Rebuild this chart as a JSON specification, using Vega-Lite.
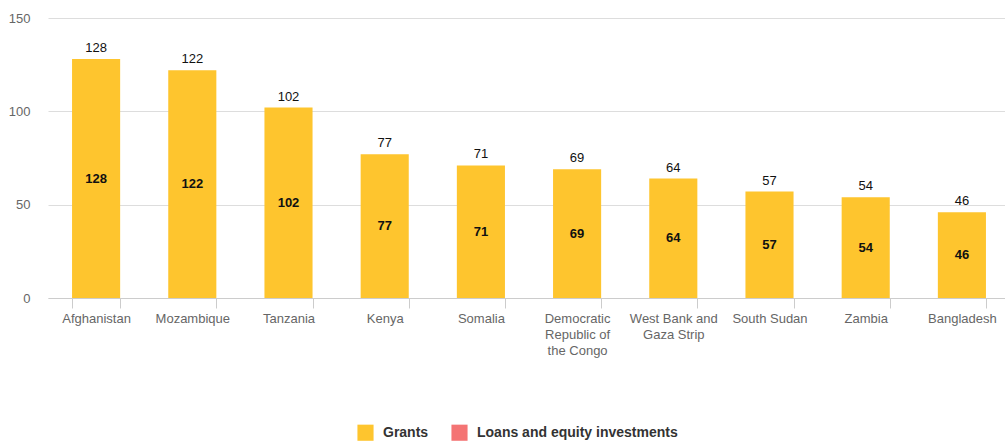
{
  "$schema": "https://vega.github.io/schema/vega-lite/v6.json",
  "width": 962,
  "height": 280,
  "autosize": "none",
  "padding": {"left": 48, "top": 18, "right": 0, "bottom": 146},
  "background": "white",
  "config": {
    "view": {"stroke": null},
    "font": "Liberation Sans"
  },
  "data": {
    "values": [
      {"country": "Afghanistan", "value": 128, "type": "Grants"},
      {"country": "Mozambique", "value": 122, "type": "Grants"},
      {"country": "Tanzania", "value": 102, "type": "Grants"},
      {"country": "Kenya", "value": 77, "type": "Grants"},
      {"country": "Somalia", "value": 71, "type": "Grants"},
      {"country": "Democratic Republic of the Congo", "value": 69, "type": "Grants"},
      {"country": "West Bank and Gaza Strip", "value": 64, "type": "Grants"},
      {"country": "South Sudan", "value": 57, "type": "Grants"},
      {"country": "Zambia", "value": 54, "type": "Grants"},
      {"country": "Bangladesh", "value": 46, "type": "Grants"}
    ]
  },
  "encoding": {
    "x": {
      "field": "country",
      "type": "nominal",
      "sort": null,
      "scale": {"paddingInner": 0.5, "paddingOuter": 0.25},
      "axis": {
        "title": null,
        "labelAngle": 0,
        "labelFont": "Liberation Sans",
        "labelFontSize": 13,
        "labelColor": "#666666",
        "labelPadding": 4,
        "labelLineHeight": 16,
        "labelLimit": 200,
        "tickBand": "extent",
        "tickSize": 10,
        "tickColor": "#cccccc",
        "domainColor": "#cccccc",
        "labelExpr": "datum.label == 'Democratic Republic of the Congo' ? ['Democratic', 'Republic of', 'the Congo'] : datum.label == 'West Bank and Gaza Strip' ? ['West Bank and', 'Gaza Strip'] : datum.label"
      }
    }
  },
  "layer": [
    {
      "mark": {"type": "bar"},
      "encoding": {
        "y": {
          "field": "value",
          "type": "quantitative",
          "scale": {"domain": [0, 150], "nice": false},
          "axis": {
            "title": null,
            "values": [0, 50, 100, 150],
            "domain": false,
            "ticks": false,
            "labelPadding": 18,
            "labelFont": "Liberation Sans",
            "labelFontSize": 13,
            "labelColor": "#666666",
            "gridColor": "#dddddd"
          }
        },
        "color": {
          "field": "type",
          "type": "nominal",
          "scale": {
            "domain": ["Grants", "Loans and equity investments"],
            "range": ["#fec52e", "#f47474"]
          },
          "legend": {
            "title": null,
            "orient": "none",
            "legendX": 309,
            "legendY": 406,
            "direction": "horizontal",
            "symbolType": "square",
            "symbolSize": 260,
            "symbolStrokeWidth": 0,
            "symbolOpacity": 1,
            "labelFont": "Liberation Sans",
            "labelFontSize": 14,
            "labelFontWeight": "bold",
            "labelColor": "#333333",
            "labelOffset": 9,
            "columnPadding": 22,
            "labelLimit": 300
          }
        }
      }
    },
    {
      "mark": {"type": "text", "baseline": "bottom", "dy": -4, "fontSize": 13, "color": "#111111", "font": "Liberation Sans"},
      "encoding": {
        "y": {"field": "value", "type": "quantitative", "scale": {"domain": [0, 150], "nice": false}, "axis": null},
        "text": {"field": "value", "type": "quantitative"}
      }
    },
    {
      "mark": {"type": "text", "baseline": "middle", "fontSize": 13, "fontWeight": "bold", "color": "#111111", "font": "Liberation Sans"},
      "encoding": {
        "y": {"field": "value", "type": "quantitative", "scale": {"domain": [0, 300], "nice": false}, "axis": null},
        "text": {"field": "value", "type": "quantitative"}
      }
    }
  ],
  "resolve": {"scale": {"y": "independent"}}
}
